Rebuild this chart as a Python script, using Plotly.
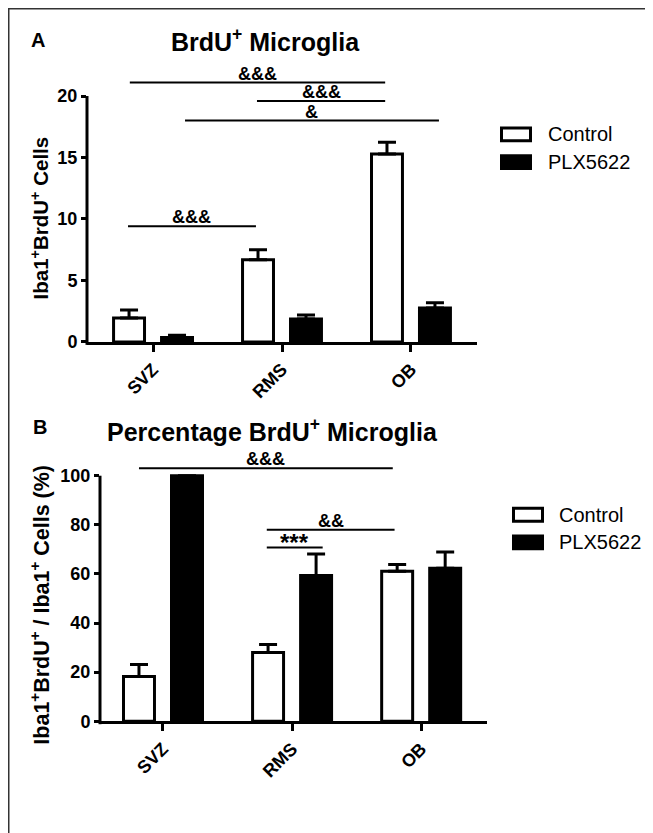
import plotly.graph_objects as go

# ---------------- data ----------------
categories = ["SVZ", "RMS", "OB"]
series_names = ["Control", "PLX5622"]

# Panel A: Iba1+BrdU+ cells
a_control = [1.95, 6.68, 15.28]
a_control_err = [0.64, 0.81, 0.97]
a_plx = [0.36, 1.87, 2.75]
a_plx_err = [0.19, 0.32, 0.43]
a_yticks = [0, 5, 10, 15, 20]

# Panel B: Iba1+BrdU+ / Iba1+ cells (%)
b_control = [18.2, 28.0, 61.1]
b_control_err = [4.9, 3.3, 2.7]
b_plx = [100.0, 59.4, 62.3]
b_plx_err = [0.0, 8.7, 6.6]
b_yticks = [0, 20, 40, 60, 80, 100]

# significance brackets: (x start, x end in category units, y value, label)
a_sig = [(-0.18, 1.80, 21.1, "&&&"),
         (0.806, 1.80, 19.6, "&&&"),
         (0.248, 2.217, 18.0, "&"),
         (-0.194, 0.798, 9.4, "&&&")]
b_sig = [(-0.186, 1.78, 103.0, "&&&"),
         (0.804, 1.794, 78.0, "&&"),
         (0.804, 1.237, 70.8, "***")]

# ---------------- layout constants ----------------
VIEW_W, VIEW_H = 653, 833
OFF = 8  # page body margin
W, H = VIEW_W - OFF, VIEW_H - OFF
FONT = "Arial, Liberation Sans, Helvetica, sans-serif"
BAR_W = 0.24
OFFSETS = [-0.306, 0.066]
FILLS = ["white", "black"]


def px_x(p):
    return (p - OFF) / W


def px_y(p):
    return 1 - (p - OFF) / H


panels = [
    dict(xa="x", ya="y", xdom=[87, 477], ydom=[346, 66], xrange=[-0.512, 2.512], ymax=22.5,
         vals=[a_control, a_plx], errs=[a_control_err, a_plx_err], yticks=a_yticks, sig=a_sig,
         title="BrdU<sup>+</sup> Microglia", title_xy=(265, 40), letter="A", letter_xy=(38, 40),
         ytitle="Iba1<sup>+</sup>BrdU<sup>+</sup> Cells", ytitle_xy=(40, 221), ytitle_size=20.5,
         legend_xy=(500, 136), legend_text_x=546),
    dict(xa="x2", ya="y2", xdom=[100, 487], ydom=[730, 456.6], xrange=[-0.488, 2.51], ymax=110,
         vals=[b_control, b_plx], errs=[b_control_err, b_plx_err], yticks=b_yticks, sig=b_sig,
         title="Percentage BrdU<sup>+</sup> Microglia", title_xy=(272, 435), letter="B", letter_xy=(40, 432),
         ytitle="Iba1<sup>+</sup>BrdU<sup>+</sup> / Iba1<sup>+</sup> Cells (%)", ytitle_xy=(40, 612),
         ytitle_size=21.5,
         legend_xy=(512, 521), legend_text_x=557),
]

fig = go.Figure()
shapes = []
annotations = []

# outer border (left and top visible)
shapes.append(dict(type="rect", xref="paper", yref="paper", x0=px_x(8.75), x1=1.05,
                   y0=-0.05, y1=px_y(8.75), line=dict(color="#333333", width=1.5)))

for i, p in enumerate(panels):
    xa, ya = p["xa"], p["ya"]
    for s in range(2):
        fig.add_trace(go.Bar(
            x=categories, y=p["vals"][s], name=series_names[s],
            xaxis=xa, yaxis=ya, width=BAR_W, offset=OFFSETS[s],
            marker=dict(color=FILLS[s], line=dict(color="black", width=3)),
            error_y=dict(type="data", array=p["errs"][s], arrayminus=[0] * 3, symmetric=False,
                         color="black", thickness=3, width=9),
            showlegend=False,
        ))
    xkey = "xaxis" if i == 0 else "xaxis2"
    ykey = "yaxis" if i == 0 else "yaxis2"
    fig.update_layout(**{
        xkey: dict(domain=[px_x(p["xdom"][0]), px_x(p["xdom"][1])], anchor=ya, type="category",
                   range=p["xrange"], showline=True, linewidth=3, linecolor="black",
                   ticks="outside", ticklen=7, tickwidth=3, tickcolor="black", tickangle=-45,
                   tickfont=dict(family=FONT, size=18, color="black", weight="bold"),
                   showgrid=False, zeroline=False, fixedrange=True),
        ykey: dict(domain=[px_y(p["ydom"][0]), px_y(p["ydom"][1])], anchor=xa,
                   range=[0, p["ymax"]], tickmode="array", tickvals=p["yticks"],
                   ticks="outside", ticklen=5, tickwidth=3, tickcolor="black",
                   tickfont=dict(family=FONT, size=18, color="black", weight="bold"),
                   showline=False, showgrid=False, zeroline=False, fixedrange=True),
    })
    # y axis line only up to the last tick
    plot_h = p["ydom"][0] - p["ydom"][1]
    shapes.append(dict(type="line", xref=xa + " domain", yref=ya + " domain",
                       x0=0, x1=0, y0=-3 / plot_h, y1=max(p["yticks"]) / p["ymax"],
                       line=dict(color="black", width=3)))
    # significance brackets
    for (x0, x1, yv, lab) in p["sig"]:
        shapes.append(dict(type="line", xref=xa, yref=ya, x0=x0, x1=x1, y0=yv, y1=yv,
                           line=dict(color="black", width=2)))
        star = lab.startswith("*")
        annotations.append(dict(xref=xa, yref=ya, x=(x0 + x1) / 2, y=yv, text=lab,
                                showarrow=False, yanchor="bottom", yshift=-11 if star else -3,
                                font=dict(family=FONT, size=24 if star else 18, color="black",
                                          weight="bold")))
    # titles
    annotations.append(dict(xref="paper", yref="paper", x=px_x(p["title_xy"][0]), y=px_y(p["title_xy"][1]),
                            text=p["title"], showarrow=False, xanchor="center", yanchor="middle",
                            font=dict(family=FONT, size=25, color="black", weight="bold")))
    annotations.append(dict(xref="paper", yref="paper", x=px_x(p["letter_xy"][0]), y=px_y(p["letter_xy"][1]),
                            text=p["letter"], showarrow=False, xanchor="center", yanchor="middle",
                            font=dict(family=FONT, size=20, color="black", weight="bold")))
    annotations.append(dict(xref="paper", yref="paper", x=px_x(p["ytitle_xy"][0]), y=px_y(p["ytitle_xy"][1]),
                            text=p["ytitle"], showarrow=False, xanchor="center", yanchor="middle",
                            textangle=-90,
                            font=dict(family=FONT, size=p["ytitle_size"], color="black", weight="bold")))
    # legend (drawn)
    lx, ly = p["legend_xy"]
    for s in range(2):
        cy = ly + s * 28
        shapes.append(dict(type="rect", xref="paper", yref="paper",
                           x0=px_x(lx + 1.5), x1=px_x(lx + 30.5), y0=px_y(cy + 6.5), y1=px_y(cy - 6.5),
                           fillcolor=FILLS[s], line=dict(color="black", width=3)))
        annotations.append(dict(xref="paper", yref="paper", x=px_x(p["legend_text_x"]), y=px_y(cy),
                                text=series_names[s], showarrow=False, xanchor="left", yanchor="middle",
                                font=dict(family=FONT, size=20, color="black")))

fig.update_layout(
    width=W, height=H, margin=dict(l=0, r=0, t=0, b=0),
    paper_bgcolor="white", plot_bgcolor="white",
    barmode="overlay", showlegend=False,
    shapes=shapes, annotations=annotations,
    font=dict(family=FONT, color="black"),
)

fig.write_html("out.html")
